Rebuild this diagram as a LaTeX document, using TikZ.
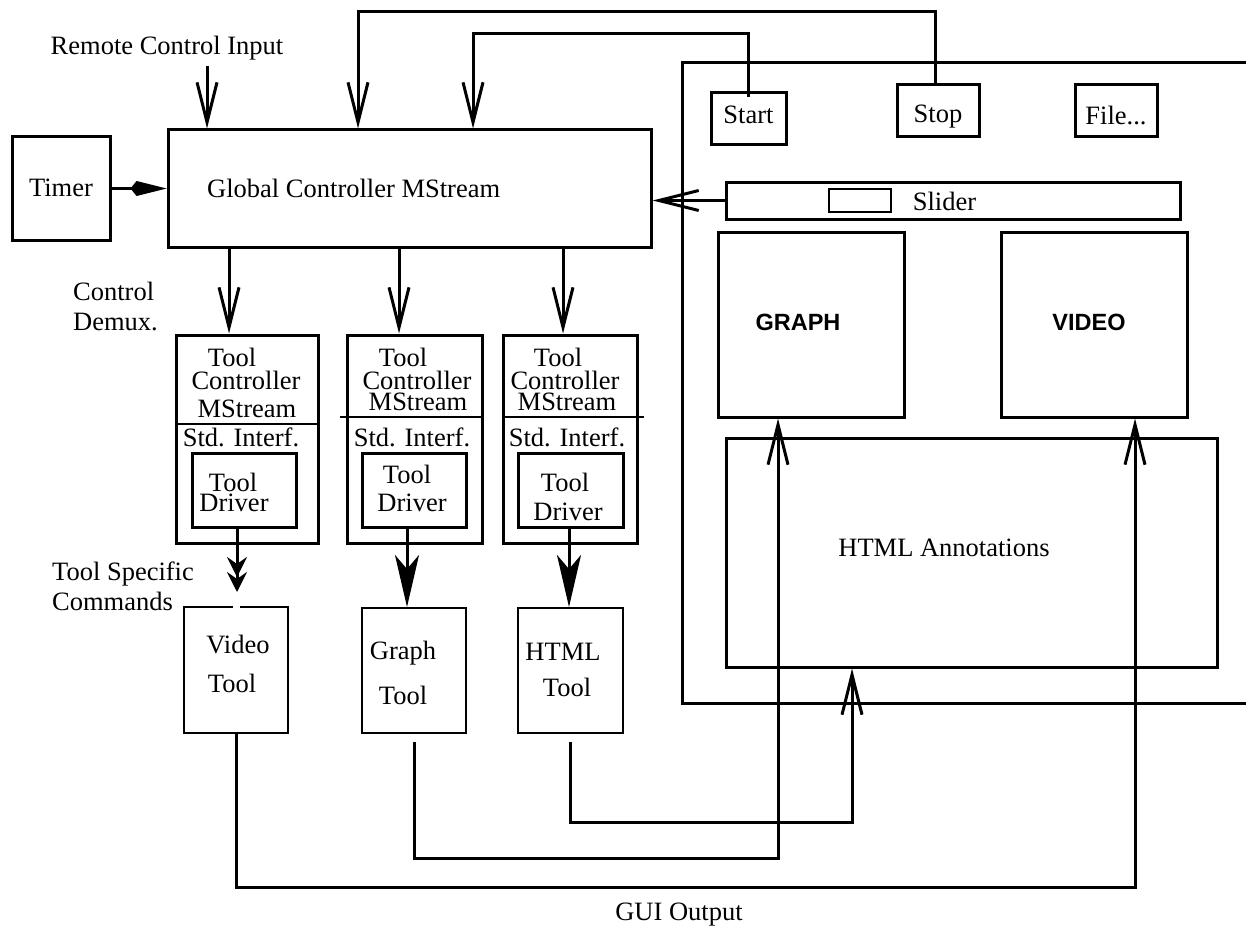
\documentclass[tikz,border=0pt]{standalone}
\usepackage{fontspec}
\setmainfont{Liberation Serif}
\newfontfamily\hsans{Liberation Sans}
\usetikzlibrary{arrows.meta}
\newcommand\fsz{\fontsize{26.5pt}{30pt}\selectfont}
\tikzset{
  bx/.style={draw, line width=3pt, inner sep=0pt, rectangle},
  thinbx/.style={draw, line width=2pt, inner sep=0pt, rectangle},
  txt/.style={inner sep=0pt, font=\fsz},
  stxt/.style={inner sep=0pt, font=\fontsize{25.5pt}{28pt}\selectfont},
  wire/.style={line width=3pt},
  oarrow/.style={line width=3pt, -{Straight Barb[length=40pt,width=20pt]}},
  farrow/.style={line width=3pt, -{Stealth[length=52pt,width=24pt,inset=14pt]}},
  darrow/.style={line width=3pt, -{Stealth[length=20pt,width=20pt,inset=7pt,sep=-5pt]Stealth[length=20pt,width=20pt,inset=7pt]}},
  karrow/.style={line width=3pt, -{Kite[length=36pt,width=15pt,inset=6pt]}},
  divider/.style={line width=1.2pt}
}
\begin{document}
\begin{tikzpicture}[x=1pt,y=-1pt]
\useasboundingbox (0,0) rectangle (1246,928);
% labels
\node[txt] (rci) at (167,48) {Remote Control Input};
\node[txt, align=left, anchor=west] (cdm) at (73,306) {Control\\Demux.};
\node[txt, align=left, anchor=west] (tsc) at (52,586) {Tool Specific\\Commands};
\node[txt] (gui) at (679,915) {GUI Output};

% timer and global controller
\node[bx, minimum width=98pt, minimum height=103pt] (timer) at (61,188.5) {};
\node[txt] (timertxt) at (61,188) {Timer};
\node[bx, minimum width=483pt, minimum height=117pt] (gc) at (409.5,188.5) {};
\node[txt, anchor=west] (gctxt) at (207,188) {Global Controller MStream};

% tool controller boxes
\node[bx, minimum width=142pt, minimum height=208pt] (tc1) at (247,439) {};
\node[bx, minimum width=135pt, minimum height=208pt] (tc2) at (414.5,439) {};
\node[bx, minimum width=134pt, minimum height=208pt] (tc3) at (570,439) {};
\node[bx, minimum width=104pt, minimum height=74pt] (td1) at (244,490) {};
\node[bx, minimum width=104pt, minimum height=74pt] (td2) at (414,490) {};
\node[bx, minimum width=105pt, minimum height=74pt] (td3) at (570.5,490) {};
\coordinate (dv1a) at (176,424); \coordinate (dv1b) at (318,424);
\coordinate (dv2a) at (340,417); \coordinate (dv2b) at (482,417);
\coordinate (dv3a) at (503,417); \coordinate (dv3b) at (644,417);
\draw[divider] (dv1a) -- (dv1b);
\draw[divider] (dv2a) -- (dv2b);
\draw[divider] (dv3a) -- (dv3b);

\node[txt] (t1a) at (232,357) {Tool};
\node[txt] (t1b) at (246,380) {Controller};
\node[txt] (t1c) at (247,409) {MStream};
\node[txt] (t1d) at (241,437) {Std. Interf.};
\node[txt] (t1e) at (233,482) {Tool};
\node[txt] (t1f) at (234,503) {Driver};

\node[txt] (t2a) at (403,357) {Tool};
\node[txt] (t2b) at (417,380) {Controller};
\node[txt] (t2c) at (418,402) {MStream};
\node[txt] (t2d) at (412,437) {Std. Interf.};
\node[txt] (t2e) at (407,474) {Tool};
\node[txt] (t2f) at (412,503) {Driver};

\node[txt] (t3a) at (558,357) {Tool};
\node[txt] (t3b) at (565,380) {Controller};
\node[txt] (t3c) at (567,402) {MStream};
\node[txt] (t3d) at (567,437) {Std. Interf.};
\node[txt] (t3e) at (565,482) {Tool};
\node[txt] (t3f) at (568,512) {Driver};

% tools
\node[thinbx, minimum width=104pt, minimum height=126pt] (vtool) at (236,670) {};
\node[thinbx, minimum width=104pt, minimum height=125pt] (gtool) at (414,670.5) {};
\node[thinbx, minimum width=105pt, minimum height=125pt] (htool) at (570.5,670.5) {};
\node[txt] (vt1) at (238,644) {Video};
\node[txt] (vt2) at (232,683) {Tool};
\node[txt] (gt1) at (403,653) {Graph};
\node[txt] (gt2) at (403,695) {Tool};
\node[txt] (ht1) at (563,652) {HTML};
\node[txt] (ht2) at (567,687) {Tool};

% GUI panel
\coordinate (pTR) at (1246,63);
\coordinate (pTL) at (682,63);
\coordinate (pBL) at (682,703);
\coordinate (pBR) at (1246,703);
\draw[wire] (pTR) -- (pTL) -- (pBL) -- (pBR);
\node[bx, minimum width=75pt, minimum height=52pt] (start) at (748.5,119) {};
\node[txt] (starttxt) at (748.5,115) {Start};
\node[bx, minimum width=82pt, minimum height=52pt] (stop) at (938,111) {};
\node[txt] (stoptxt) at (938,117) {Stop};
\node[bx, minimum width=82pt, minimum height=52pt] (file) at (1116,111) {};
\node[txt] (filetxt) at (1116,115) {File...};
\node[bx, minimum width=454pt, minimum height=37pt] (slider) at (953,200.5) {};
\node[draw, line width=2.5pt, inner sep=0pt, minimum width=62pt, minimum height=23pt] (knob) at (860,200.5) {};
\node[txt] (slidertxt) at (944.5,201) {Slider};
\node[bx, minimum width=186pt, minimum height=185pt] (graphwin) at (811,324.5) {};
\node[inner sep=0pt, font=\hsans\bfseries\fontsize{23.5pt}{26pt}\selectfont] (graphtxt) at (798,322) {GRAPH};
\node[bx, minimum width=186pt, minimum height=185pt] (videowin) at (1094,324.5) {};
\node[inner sep=0pt, font=\hsans\bfseries\fontsize{23.5pt}{26pt}\selectfont] (videotxt) at (1089,322) {VIDEO};
\node[bx, minimum width=491pt, minimum height=229pt] (annot) at (971.5,552.5) {};
\node[txt] (annottxt) at (944,548) {HTML Annotations};

% connectors: inputs to global controller
\draw[oarrow] (207,0 |- rci.south) ++(0,6) -- (207,0 |- gc.north);
\coordinate (loopA) at (358,12);
\coordinate (loopB) at (473,34);
\draw[oarrow] (935,0 |- stop.north) |- (loopA) -- (loopA |- gc.north);
\draw[oarrow] ([yshift=-6pt]start.north) |- (loopB) -- (loopB |- gc.north);
\draw[karrow] (timer.east) -- (gc.west);
\draw[oarrow] (slider.west) -- (slider.west -| gc.east);

% control demux
\draw[oarrow] (229,0 |- gc.south) -- (229,0 |- tc1.north);
\draw[oarrow] (399,0 |- gc.south) -- (399,0 |- tc2.north);
\draw[oarrow] (563,0 |- gc.south) -- (563,0 |- tc3.north);

% tool specific commands
\draw[darrow] (237,0 |- td1.south) -- (237,592);
\draw[white, line width=3.5pt] (233,0 |- vtool.north) -- (240,0 |- vtool.north);
\draw[farrow] (407,0 |- td2.south) -- (407,0 |- gtool.north);
\draw[farrow] (569,0 |- td3.south) -- (569,0 |- htool.north);

% GUI output
\coordinate (vturn) at (1135,887);
\coordinate (gturn) at (778,858);
\coordinate (hturn) at (852,822);
\draw[oarrow] (vtool.south) |- (vturn) -- (vturn |- videowin.south);
\draw[oarrow] ([yshift=-8pt]gtool.south) |- (gturn) -- (gturn |- graphwin.south);
\draw[oarrow] ([yshift=-8pt]htool.south) |- (hturn) -- (hturn |- annot.south);
\end{tikzpicture}
\end{document}
